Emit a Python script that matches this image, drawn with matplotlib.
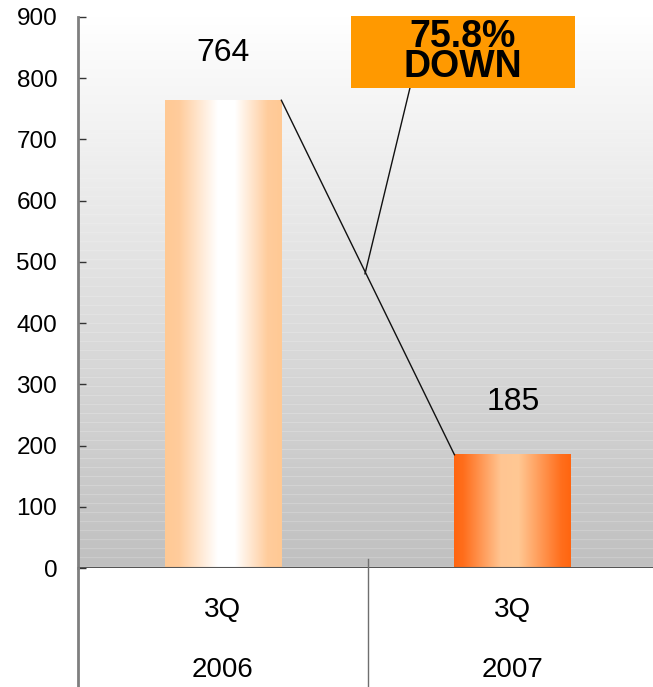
import numpy as np
import matplotlib
matplotlib.use("Agg")
import matplotlib.pyplot as plt
from matplotlib.colors import LinearSegmentedColormap
from matplotlib.patches import Rectangle
from matplotlib import transforms

plt.rcParams['font.family'] = ['Liberation Sans', 'DejaVu Sans']

# data
quarters = ["3Q", "3Q"]
years = ["2006", "2007"]
values = [764, 185]
change_text = "75.8%\nDOWN"
yticks = [0, 100, 200, 300, 400, 500, 600, 700, 800, 900]

bar_w = 0.403
label_offsets = [34, 38]  # points above each bar top
fig = plt.figure(figsize=(6.53, 6.87), dpi=100)
ax = fig.add_axes([0.1194, 0.1732, 0.888, 0.8021])

# background: white at top fading to grey, faint light stripes lower down
rows = 551
depth = np.linspace(0, 1, rows)
shade = 255 - 63 * depth
stripes = (np.arange(rows) % 9 == 0) * 10 * np.clip(depth * 1.6 - 0.3, 0, 1)
bg = np.clip(shade + stripes, 0, 255) / 255.0
bg_img = np.repeat(bg[:, None, None], 4, axis=1).repeat(3, axis=2)
ax.imshow(bg_img, extent=[0, 1, 0, 1], transform=ax.transAxes,
          aspect='auto', zorder=0, interpolation='nearest')

# gradient bars
cmaps = [
    LinearSegmentedColormap.from_list(
        "b1", [(0, "#FFC994"), (0.12, "#FFCC9C"), (0.45, "#FFFFFF"),
               (0.6, "#FFFFFF"), (0.88, "#FFCC9C"), (1, "#FFC994")]),
    LinearSegmentedColormap.from_list(
        "b2", [(0, "#FF6510"), (0.08, "#FF6E1C"), (0.4, "#FFC592"),
               (0.55, "#FFC894"), (0.92, "#FF6E1C"), (1, "#FF6510")]),
]
grad = np.linspace(0, 1, 256)[None, :]
for i, v in enumerate(values):
    ax.imshow(grad, cmap=cmaps[i], extent=[i - bar_w / 2, i + bar_w / 2, 0, v],
              aspect='auto', zorder=2)
    ax.annotate(str(v), (i, v), xytext=(0, label_offsets[i]), textcoords='offset points',
                ha='center', va='center', fontsize=23, zorder=5)

ax.set_xlim(-0.5, 1.5)
ax.set_ylim(0, 900)

# connector between bar tops
ax.plot([0 + bar_w / 2, 1 - bar_w / 2], values, color='#111111', lw=1.0, zorder=4)

# callout box
ax.add_patch(Rectangle((0.4707, 0.871), 0.386, 0.1307, transform=ax.transAxes,
                       facecolor='#FF9900', edgecolor='none', clip_on=False, zorder=6))
ax.text(0.4707 + 0.386 / 2, 0.871 + 0.1307 / 2, change_text, transform=ax.transAxes,
        ha='center', va='center', fontsize=27, fontweight='bold', linespacing=0.8,
        zorder=7)
mid = (0.5, (values[0] + values[1]) / 2 + 6)
ax.plot([0.645, mid[0] - 0.01], [784, mid[1]], color='#111111', lw=1.0, zorder=4)

# axes styling
for s in ['top', 'right', 'bottom']:
    ax.spines[s].set_visible(False)
ax.spines['left'].set_color('#7f7f7f')
ax.spines['left'].set_linewidth(2)
ax.axhline(0, color='#555555', lw=1.5, zorder=3)
ax.set_yticks(yticks)
ax.tick_params(axis='y', direction='in', length=6, width=1, color='#333333',
               labelsize=17.5, pad=15)
ax.set_xticks([])

# category area below the axis
tb = transforms.blended_transform_factory(ax.transData, fig.transFigure)
fig.add_artist(plt.Line2D([-0.5, -0.5], [0, 0.1732], transform=tb, color='#7f7f7f', lw=2))
fig.add_artist(plt.Line2D([0.5, 0.5], [0, (687 - 559) / 687], transform=tb,
                          color='#6f6f6f', lw=1))
for i, (q, y) in enumerate(zip(quarters, years)):
    fig.text(i, 1 - 610 / 687, q, transform=tb, ha='center', va='center', fontsize=20)
    fig.text(i, 1 - 670 / 687, y, transform=tb, ha='center', va='center', fontsize=20)

fig.savefig("out.png", dpi=100)
